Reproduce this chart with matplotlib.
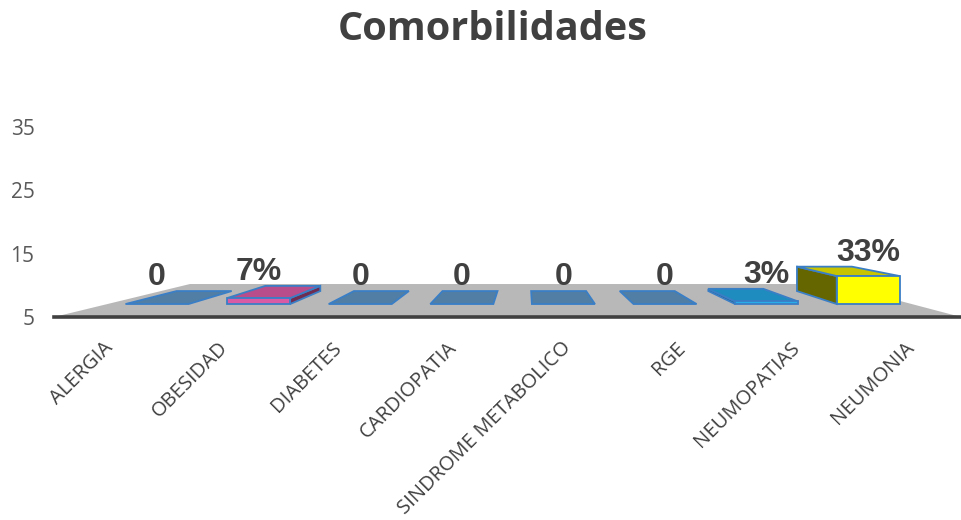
import matplotlib
matplotlib.use("Agg")
import matplotlib.pyplot as plt
from matplotlib.patches import Polygon

# ---- data -------------------------------------------------------------
categories = ["ALERGIA", "OBESIDAD", "DIABETES", "CARDIOPATIA",
              "SINDROME METABOLICO", "RGE", "NEUMOPATIAS", "NEUMONIA"]
values = [0, 7, 0, 0, 0, 0, 3, 33]
value_labels = ["0", "7%", "0", "0", "0", "0", "3%", "33%"]
y_ticks = [5, 15, 25, 35]

# ---- face colours ------------------------------------------------------
top_colors = ["#507EA5", "#B94C8A", "#507EA5", "#507EA5",
              "#507EA5", "#507EA5", "#1E8CBE", "#C8C400"]
front_colors = ["#6A9FD0", "#D95BA3", "#6A9FD0", "#6A9FD0",
                "#6A9FD0", "#6A9FD0", "#2AAEE8", "#FFFF00"]
side_colors = ["#304C63", "#6F2D52", "#304C63", "#304C63",
               "#304C63", "#304C63", "#12546F", "#666600"]
edge_color = "#3A7EC6"
text_color = "#404040"

# ---- simple perspective set-up (in axis units) -------------------------
Y0 = 5.0            # front edge of the floor
K = 0.0553          # shrink per unit of depth
VX = 3.63           # vanishing x (category units)
FLOOR_DEPTH = 5.21
BAR_D0, BAR_D1 = 2.05, 4.10
HALF_W = 0.35
H_SCALE = 0.151     # box height per percentage point
X_LEFT, X_RIGHT = -1.014, 7.913


def proj(xg, d, h=0.0):
    f = 1 - K * d
    return VX + (xg - VX) * f, Y0 + d + h * f


fig = plt.figure(figsize=(9.61, 5.2), dpi=100)
ax = fig.add_axes([54 / 961, (520 - 317) / 520, (961 - 54) / 961, (317 - 60) / 520])
ax.set_xlim(X_LEFT, X_RIGHT)
ax.set_ylim(5, 45.6)

# floor
floor = [proj(X_LEFT, 0), proj(X_RIGHT, 0),
         proj(X_RIGHT, FLOOR_DEPTH), proj(X_LEFT, FLOOR_DEPTH)]
ax.add_patch(Polygon(floor, closed=True, facecolor="#B8B8B8",
                     edgecolor="none", zorder=1))

f_front = 1 - K * BAR_D0
for i, (v, lab) in enumerate(zip(values, value_labels)):
    xg = VX + (i - VX) / f_front
    xl, xr = xg - HALF_W, xg + HALF_W
    h = v * H_SCALE
    if h > 0:
        sx = xl if xl > VX else xr
        side = [proj(sx, BAR_D0), proj(sx, BAR_D1),
                proj(sx, BAR_D1, h), proj(sx, BAR_D0, h)]
        ax.add_patch(Polygon(side, closed=True, facecolor=side_colors[i],
                             edgecolor=edge_color, lw=1.3, zorder=3))
        front = [proj(xl, BAR_D0), proj(xr, BAR_D0),
                 proj(xr, BAR_D0, h), proj(xl, BAR_D0, h)]
        ax.add_patch(Polygon(front, closed=True, facecolor=front_colors[i],
                             edgecolor=edge_color, lw=1.3, zorder=4))
    top = [proj(xl, BAR_D0, h), proj(xr, BAR_D0, h),
           proj(xr, BAR_D1, h), proj(xl, BAR_D1, h)]
    ax.add_patch(Polygon(top, closed=True, facecolor=top_colors[i],
                         edgecolor=edge_color, lw=1.3, zorder=3.5))
    lx, _ = proj(xg, BAR_D0, h)
    _, ly = proj(xg, BAR_D1, h)
    ax.text(lx, ly + 0.9, lab, ha="center", va="baseline",
            fontsize=23, fontweight="bold", family="Liberation Sans",
            color=text_color, zorder=6)

# axes decoration
for s in ("top", "right", "left"):
    ax.spines[s].set_visible(False)
ax.spines["bottom"].set_color(text_color)
ax.spines["bottom"].set_linewidth(2.6)
ax.spines["bottom"].set_zorder(5)

ax.set_yticks(y_ticks)
ax.set_yticklabels([str(t) for t in y_ticks], family="Open Sans",
                   fontsize=15, color="#595959")
ax.tick_params(axis="y", length=0, pad=14)

label_pos = [-0.531 + 1.126 * i for i in range(len(categories))]
ax.set_xticks(label_pos)
ax.set_xticklabels(categories, rotation=45, ha="right", rotation_mode="anchor",
                   family="Open Sans", fontsize=14.5, color=text_color)
ax.tick_params(axis="x", length=0, pad=15)

fig.text(493 / 961, 1 - 30 / 520, "Comorbilidades", ha="center", va="center",
         family="Open Sans", fontweight="bold", fontsize=28.5, color=text_color)

fig.savefig("out.png", dpi=100, facecolor="white")
